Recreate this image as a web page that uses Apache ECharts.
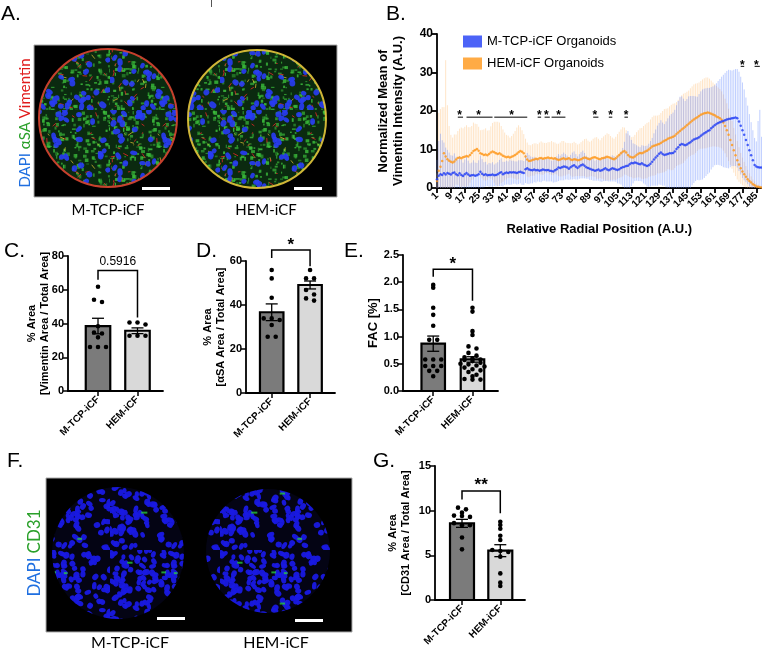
<!DOCTYPE html>
<html>
<head>
<meta charset="utf-8">
<script src="https://cdn.jsdelivr.net/npm/echarts@6/dist/echarts.min.js"></script>
<style>
html, body { margin: 0; padding: 0; background: #fff; }
#main { width: 762px; height: 652px; }
</style>
</head>
<body>
<div id="main"></div>
<script>
var FONT = '"Liberation Sans", Arial, sans-serif';
var LABEL_FONT = 'Lato, "Open Sans", sans-serif';

// ---------- panel B : radial profile (positions 1..188) ----------
var positions = [];
for (var p = 1; p <= 188; p++) positions.push(String(p));

var mtcpMean = [
  2.3, 3.2, 3.6, 3.4, 3.8, 3.5, 3.9, 3.7,
  3.5, 3.9, 4.0, 3.6, 3.3, 3.8, 3.4, 3.1,
  3.6, 3.9, 3.5, 3.2, 3.3, 3.4, 3.2, 3.3,
  3.6, 4.2, 3.7, 3.4, 3.6, 3.3, 3.4, 3.4,
  3.5, 3.3, 3.4, 3.6, 3.9, 4.1, 3.6, 3.8,
  4.0, 3.9, 4.1, 4.0, 4.1, 4.0, 3.9, 4.1,
  4.2, 4.0, 3.9, 4.9, 5.1, 4.8, 4.7, 4.6,
  4.8, 4.6, 4.7, 4.5, 4.6, 4.8, 4.7, 4.6,
  4.7, 4.5, 4.4, 4.3, 4.6, 4.9, 5.3, 5.2,
  5.4, 5.6, 5.5, 5.3, 5.0, 5.4, 5.7, 5.9,
  5.5, 5.2, 5.6, 5.9, 6.1, 5.8, 5.4, 5.2,
  5.0, 4.8, 4.7, 4.5, 4.6, 4.8, 4.5, 4.6,
  4.9, 5.1, 4.8, 4.6, 4.9, 5.1, 5.0, 4.8,
  4.7, 4.9, 5.2, 5.4, 5.5, 5.7, 5.8, 6.2,
  6.5, 6.4, 6.6, 6.5, 6.3, 6.2, 6.4, 6.1,
  5.9, 5.7, 5.9, 6.3, 6.8, 7.4, 7.9, 8.4,
  8.9, 9.2, 8.8, 8.6, 8.7, 8.8, 9.0, 9.0,
  9.1, 9.5, 10.1, 10.6, 11.2, 11.4, 11.3, 11.1,
  11.3, 11.6, 11.9, 12.3, 12.6, 12.8, 12.9, 13.2,
  13.6, 13.9, 14.2, 14.5, 14.8, 15.0, 15.5, 15.9,
  16.3, 16.6, 16.9, 17.1, 17.3, 17.4, 17.6, 17.8,
  17.9, 18.0, 18.1, 18.2, 18.3, 18.1, 17.3, 16.2,
  15.0, 13.8, 12.5, 11.2, 9.8, 8.5, 7.2, 6.0,
  5.6, 5.4, 5.3, 5.3
];
var mtcpSd = [
  5, 9, 10.5, 9, 8, 7, 6, 5.5,
  5, 4.5, 5, 4.5, 4, 4.5, 4, 3.5,
  3.8, 4.2, 3.6, 3.2, 3.3, 3.8, 3.4, 3.2,
  3.6, 4.2, 3.8, 3.3, 3.2, 2.8, 3.1, 3.0,
  3.2, 2.8, 3.0, 3.1, 3.4, 3.6, 3.2, 3.0,
  3.1, 3.0, 3.3, 3.1, 3.0, 2.9, 3.0, 3.1,
  3.0, 3.2, 3.1, 3.6, 4.0, 3.8, 3.5, 3.4,
  3.3, 3.2, 3.0, 2.9, 3.1, 3.0, 2.8, 2.9,
  3.0, 2.8, 2.7, 2.9, 3.1, 3.3, 3.5, 3.2,
  3.4, 3.6, 3.3, 3.1, 2.9, 3.2, 3.5, 3.6,
  3.3, 3.0, 3.2, 3.4, 3.6, 3.3, 3.0, 2.8,
  2.9, 2.7, 2.8, 2.6, 2.7, 2.9, 2.8, 3.0,
  3.1, 3.3, 3.0, 2.9, 3.2, 3.4, 3.3, 3.2,
  3.5, 3.8, 4.3, 5.0, 6.5, 8.5, 9.0, 7.5,
  6.0, 5.2, 4.8, 4.6, 4.5, 4.4, 4.7, 4.9,
  5.0, 5.3, 5.6, 5.9, 6.2, 6.8, 7.3, 7.8,
  8.0, 8.4, 8.2, 8.0, 8.6, 9.3, 9.8, 10.2,
  10.5, 10.8, 11.4, 12.0, 12.5, 12.4, 11.9, 11.5,
  11.8, 12.2, 12.0, 11.6, 11.3, 11.0, 10.8, 11.2,
  11.5, 11.7, 11.6, 11.4, 11.2, 11.0, 10.7, 10.5,
  10.4, 10.6, 10.9, 11.2, 11.6, 12.0, 12.3, 12.6,
  12.8, 12.6, 12.4, 12.5, 12.6, 12.8, 12.9, 12.7,
  12.4, 11.8, 11.0, 10.2, 9.4, 8.6, 7.8, 7.0,
  6.5, 12.0, 15.0, 8.0
];
var hemMean = [
  1.8, 4.5, 5.5, 7.0, 9.0, 8.2, 7.5, 7.1,
  6.8, 6.6, 6.9, 7.4, 7.8, 7.9, 7.7, 8.0,
  8.1, 8.3, 8.2, 8.6, 9.1, 9.6, 9.9, 10.1,
  9.7, 9.0, 8.8, 8.6, 8.7, 8.5, 8.8, 9.2,
  9.5, 9.3, 9.0, 8.8, 9.0, 8.7, 8.4, 8.2,
  8.0, 8.1, 7.9, 8.1, 8.3, 8.6, 8.9, 9.3,
  9.6, 9.4, 9.0, 8.2, 7.4, 7.0, 7.1, 7.3,
  7.4, 7.6, 7.5, 7.7, 7.8, 7.6, 7.7, 7.8,
  7.9, 7.7, 7.8, 7.6, 7.7, 7.5, 7.3, 7.4,
  7.6, 7.7, 7.5, 7.6, 7.7, 7.4, 7.3, 7.5,
  7.4, 7.2, 7.3, 7.5, 7.7, 7.9, 7.8, 7.6,
  7.5, 7.7, 7.9, 8.0, 7.8, 7.6, 7.5, 7.7,
  7.8, 7.9, 8.1, 8.0, 7.8, 7.6, 7.5, 7.7,
  8.2, 8.6, 9.0, 9.4, 9.6, 9.2, 8.6, 8.2,
  8.0, 7.9, 8.2, 8.6, 8.9, 9.1, 9.0, 9.2,
  9.5, 9.7, 10.0, 10.4, 10.8, 11.0, 11.1, 11.3,
  11.4, 11.7, 12.0, 12.3, 12.5, 12.8, 13.0, 13.1,
  13.3, 13.6, 14.0, 14.4, 14.8, 15.2, 15.5, 15.9,
  16.3, 16.7, 17.1, 17.5, 17.8, 18.1, 18.4, 18.7,
  19.0, 19.2, 19.4, 19.5, 19.6, 19.5, 19.3, 19.1,
  18.9, 18.6, 18.4, 18.1, 17.7, 17.0, 16.1, 15.0,
  13.8, 12.5, 11.2, 9.8, 8.5, 7.2, 6.1, 5.1,
  4.3, 3.6, 2.9, 2.3, 1.8, 1.4, 1.0, 0.7,
  0.4, 0.3, 0.2, 0.1
];
var hemSd = [
  2, 15, 15, 14, 12, 25, 14, 9,
  7, 6.5, 7, 6.5, 7, 7.5, 8, 7.5,
  7.8, 8, 7.6, 7.2, 7, 7.4, 6.8, 6.5,
  6.2, 6, 6.3, 6.6, 6.8, 6.4, 6.2, 6.8,
  7.4, 7.9, 8.2, 8.4, 8.0, 7.4, 6.8, 6.2,
  5.8, 5.5, 5.2, 5.4, 5.8, 6.2, 6.8, 7.0,
  6.2, 5.6, 5.0, 4.6, 4.4, 4.2, 4.0, 4.1,
  4.2, 4.0, 3.9, 4.1, 4.3, 4.2, 4.0, 3.9,
  4.0, 4.2, 4.4, 4.3, 4.1, 4.0, 4.2, 4.4,
  4.6, 4.5, 4.3, 4.1, 4.0, 4.2, 4.4, 4.5,
  4.3, 4.1, 4.2, 4.4, 4.6, 4.8, 5.0, 4.7,
  4.5, 4.6, 4.9, 5.1, 5.4, 5.2, 4.9, 5.3,
  5.6, 5.9, 6.1, 6.0, 5.7, 5.5, 5.3, 5.6,
  5.8, 6.0, 6.2, 6.4, 6.1, 5.8, 5.5, 5.3,
  5.2, 5.4, 5.6, 5.9, 6.1, 6.4, 6.6, 6.9,
  7.0, 7.2, 7.1, 7.4, 7.6, 7.8, 7.7, 7.5,
  7.6, 7.8, 8.0, 8.2, 8.1, 7.9, 8.2, 8.5,
  8.6, 8.4, 8.3, 8.5, 8.7, 8.9, 9.0, 8.8,
  8.7, 8.6, 8.8, 8.9, 9.1, 9.0, 8.8, 8.7,
  8.8, 9.0, 9.1, 9.2, 9.1, 8.9, 8.6, 8.3,
  8.1, 7.9, 7.7, 7.6, 7.4, 7.3, 7.1, 7.0,
  6.8, 6.5, 6.2, 5.8, 5.4, 5.0, 4.5, 4.0,
  3.6, 3.2, 2.8, 2.4, 2.0, 1.6, 1.2, 1.0,
  0.8, 0.6, 0.5, 0.4
];
// significance marks in B: underline from..to, star position, height
var sigFrom  = [13, 17.6, 34.2, 58.5, 62.5, 67, 91, 99.5, 108.5, 175.5, 184];
var sigTo    = [16, 32.9, 53.1, 61, 66, 75, 93.5, 102, 111, 178, 186.5];
var sigStar  = [14.4, 24.9, 43.8, 59.6, 64, 71, 92, 100.7, 109.7, 176.5, 185];
var sigLevel = [18.4, 18.4, 18.4, 18.4, 18.4, 18.4, 18.4, 18.4, 18.4, 31.6, 31.6];

// ---------- panels C, D, E, G ----------
var groups = ['M-TCP-iCF', 'HEM-iCF'];

var cMtcp = [61.8, 52.7, 54.1, 38.4, 34.7, 34.1, 31.8, 26.1, 26.1, 26.1];
var cHem  = [40.6, 39.4, 40.6, 32.7, 32.7, 32.7];
var cMean = [38.5, 35.7];
var cSem  = [4.6, 1.7];
var cBracket = [71.4, 66, 43.5];

var dMtcp = [55.9, 52.1, 43.3, 33.9, 33.9, 33.2, 30.9, 25.6, 25.6];
var dHem  = [55.9, 52.1, 52.1, 46.8, 44.8, 43.0, 42.0];
var dMean = [36.7, 49.1];
var dSem  = [3.8, 1.8];
var dBracket = [65, 61.4, 57.6];

var eMtcp = [1.95, 1.90, 1.53, 1.40, 1.20, 0.94, 0.94, 0.58, 0.58, 0.58, 0.46, 0.46, 0.46, 0.37, 0.37, 0.27];
var eHem  = [1.53, 1.46, 1.10, 1.03, 0.82, 0.78, 0.70, 0.65, 0.62, 0.60, 0.58, 0.57, 0.55, 0.52,
             0.50, 0.49, 0.47, 0.45, 0.43, 0.40, 0.38, 0.35, 0.30, 0.27, 0.22, 0.21, 0.21];
var eMean = [0.87, 0.58];
var eSem  = [0.14, 0.05];
var eBracket = [2.24, 2.10, 1.66];

var gMtcp = [10.34, 10.15, 9.78, 9.45, 9.40, 9.30, 8.60, 8.36, 8.36, 7.00, 5.67];
var gHem  = [8.76, 8.39, 7.98, 7.2, 6.71, 5.59, 5.48, 5.37, 4.85, 2.98, 1.94, 1.57];
var gMean = [8.58, 5.52];
var gSem  = [0.45, 0.67];
var gBracket = [12.2, 11.26, 9.7];

var BLUE = '#1f3cf5', ORANGE = '#ff9616';
var BAR_FILL = ['#7b7b7b', '#d9d9d9'];

// ---------- helpers ----------
function swarm(vals, tol, maxRow) {
  var order = vals.map(function (v, i) { return i; })
    .sort(function (a, b) { return vals[b] - vals[a]; });
  var off = new Array(vals.length), row = [];
  function flush() {
    row.forEach(function (k, j) { off[k] = j - (row.length - 1) / 2; });
    row = [];
  }
  order.forEach(function (k) {
    if (row.length && (vals[row[0]] - vals[k] > tol || row.length >= maxRow)) flush();
    row.push(k);
  });
  flush();
  return off;
}

function axisStyle() {
  return { show: true, onZero: false, lineStyle: { color: '#000', width: 1.8 } };
}

var grids = [], xAxes = [], yAxes = [], series = [];

function barPanel(o) {
  var gi = grids.length;
  grids.push({ left: o.left, top: o.top, width: o.width, height: o.height });
  xAxes.push({
    type: 'value', gridIndex: gi, min: o.xmin, max: o.xmax,
    axisLine: axisStyle(), splitLine: { show: false },
    axisTick: { show: true, customValues: [0, 1], length: 5, lineStyle: { color: '#000', width: 1.5 } },
    axisLabel: {
      customValues: [0, 1], rotate: 45, margin: 7,
      fontFamily: FONT, fontWeight: 'bold', fontSize: 10, color: '#000',
      formatter: function (v) { return groups[Math.round(v)]; }
    }
  });
  yAxes.push({
    type: 'value', gridIndex: gi, min: 0, max: o.ymax, interval: o.interval,
    axisLine: axisStyle(), splitLine: { show: false },
    axisTick: { show: true, length: 5, lineStyle: { color: '#000', width: 1.5 } },
    axisLabel: {
      fontFamily: FONT, fontWeight: 'bold', fontSize: 11, color: '#000', margin: 4,
      formatter: o.fmt || null
    },
    name: o.name, nameLocation: 'middle', nameGap: o.nameGap, nameMoveOverlap: false,
    nameTextStyle: { fontFamily: FONT, fontWeight: 'bold', fontSize: o.nameSize || 11, color: '#000', lineHeight: 13 }
  });

  var bars = [[0, o.mean[0], o.sem[0]], [1, o.mean[1], o.sem[1]]];
  var bw = o.barWidth;
  series.push({
    type: 'custom', xAxisIndex: gi, yAxisIndex: gi, data: bars, z: 2, silent: true,
    renderItem: function (params, api) {
      var x = api.value(0), m = api.value(1);
      var base = api.coord([x, 0]), top = api.coord([x, m]);
      return {
        type: 'rect',
        shape: { x: base[0] - bw / 2, y: top[1], width: bw, height: base[1] - top[1] },
        style: { fill: BAR_FILL[x], stroke: '#000', lineWidth: 2.2 }
      };
    }
  });

  var dots = [];
  [o.a, o.b].forEach(function (vals, gIdx) {
    var off = swarm(vals, o.tol, 4);
    vals.forEach(function (v, i) { dots.push([gIdx, v, off[i]]); });
  });
  series.push({
    type: 'custom', xAxisIndex: gi, yAxisIndex: gi, data: dots, z: 3, silent: true,
    renderItem: function (params, api) {
      var c = api.coord([api.value(0), api.value(1)]);
      return { type: 'circle', shape: { cx: c[0] + api.value(2) * 8, cy: c[1], r: 2.3 }, style: { fill: '#000' } };
    }
  });

  series.push({
    type: 'custom', xAxisIndex: gi, yAxisIndex: gi, data: bars, z: 4, silent: true,
    renderItem: function (params, api) {
      var x = api.value(0), m = api.value(1), s = api.value(2);
      var hi = api.coord([x, m + s]), lo = api.coord([x, m - s]);
      var st = { stroke: '#000', lineWidth: 1.3 };
      return {
        type: 'group', children: [
          { type: 'line', shape: { x1: hi[0], y1: hi[1], x2: lo[0], y2: lo[1] }, style: st },
          { type: 'line', shape: { x1: hi[0] - 6, y1: hi[1], x2: hi[0] + 6, y2: hi[1] }, style: st },
          { type: 'line', shape: { x1: lo[0] - 6, y1: lo[1], x2: lo[0] + 6, y2: lo[1] }, style: st }
        ]
      };
    }
  });

  series.push({
    type: 'custom', xAxisIndex: gi, yAxisIndex: gi, data: [o.bracket], z: 4, silent: true,
    encode: { x: [], y: 0 },
    renderItem: function (params, api) {
      var lTop = api.coord([0, api.value(0)]), rTop = api.coord([1, api.value(0)]);
      var lEnd = api.coord([0, api.value(1)]), rEnd = api.coord([1, api.value(2)]);
      return {
        type: 'group', children: [
          { type: 'polyline', shape: { points: [lEnd, lTop, rTop, rEnd] }, style: { stroke: '#000', lineWidth: 1.5, fill: null } },
          { type: 'text', style: {
            text: o.mark, x: (lTop[0] + rTop[0]) / 2, y: lTop[1] - o.markGap,
            align: 'center', verticalAlign: 'bottom',
            font: o.markFont, fill: '#000'
          } }
        ]
      };
    }
  });
}

// ---------- panel B grid ----------
grids.push({ left: 437, top: 34, width: 326, height: 154 });
xAxes.push({
  type: 'category', gridIndex: 0, data: positions, boundaryGap: false,
  axisLine: axisStyle(),
  axisTick: { show: true, interval: 7, length: 5, lineStyle: { color: '#000', width: 1.8 } },
  axisLabel: { interval: 7, rotate: 45, margin: 6, fontFamily: FONT, fontWeight: 'bold', fontSize: 10, color: '#000' },
  name: 'Relative Radial Position (A.U.)', nameLocation: 'middle', nameGap: 35,
  nameTextStyle: { fontFamily: FONT, fontWeight: 'bold', fontSize: 13, color: '#000' }
});
yAxes.push({
  type: 'value', gridIndex: 0, min: 0, max: 40, interval: 10,
  axisLine: axisStyle(), splitLine: { show: false },
  axisTick: { show: true, length: 5, lineStyle: { color: '#000', width: 1.8 } },
  axisLabel: { fontFamily: FONT, fontWeight: 'bold', fontSize: 12, color: '#000', margin: 4 },
  name: 'Normalized Mean of\nVimentin Intensity (A.U.)', nameLocation: 'middle', nameGap: 31,
  nameTextStyle: { fontFamily: FONT, fontWeight: 'bold', fontSize: 13, color: '#000', lineHeight: 15 }
});

function errSeries(name, mean, sd, color) {
  return {
    type: 'custom', name: name, xAxisIndex: 0, yAxisIndex: 0, silent: true, z: 1,
    data: mean.map(function (m, i) { return [i, m, sd[i]]; }),
    renderItem: function (params, api) {
      var i = api.value(0), m = api.value(1), s = api.value(2);
      var a = api.coord([i, Math.max(0, m - s)]), b = api.coord([i, m + s]);
      return { type: 'line', shape: { x1: a[0], y1: a[1], x2: b[0], y2: b[1] }, style: { stroke: color, lineWidth: 0.9 } };
    }
  };
}
series.push(errSeries('hemErr', hemMean, hemSd, 'rgba(255,185,110,0.42)'));
series.push(errSeries('mtcpErr', mtcpMean, mtcpSd, 'rgba(100,135,255,0.45)'));
series.push({
  type: 'scatter', name: 'HEM-iCF Organoids', xAxisIndex: 0, yAxisIndex: 0, z: 3,
  data: hemMean, symbol: 'circle', symbolSize: 2.5, itemStyle: { color: ORANGE }, silent: true
});
series.push({
  type: 'scatter', name: 'M-TCP-iCF Organoids', xAxisIndex: 0, yAxisIndex: 0, z: 4,
  data: mtcpMean, symbol: 'circle', symbolSize: 2.5, itemStyle: { color: BLUE }, silent: true
});
series.push({
  type: 'custom', xAxisIndex: 0, yAxisIndex: 0, silent: true, z: 5,
  encode: { x: 0, y: 3 },
  data: sigFrom.map(function (f, i) { return [f - 1, sigTo[i] - 1, sigStar[i] - 1, sigLevel[i]]; }),
  renderItem: function (params, api) {
    var lv = api.value(3);
    var a = api.coord([api.value(0), lv]), b = api.coord([api.value(1), lv]), s = api.coord([api.value(2), lv]);
    return {
      type: 'group', children: [
        { type: 'line', shape: { x1: a[0], y1: a[1], x2: b[0], y2: b[1] }, style: { stroke: '#000', lineWidth: 1 } },
        { type: 'text', style: { text: '*', x: s[0], y: s[1] + 5, align: 'center', verticalAlign: 'bottom', font: 'bold 12px ' + FONT, fill: '#000' } }
      ]
    };
  }
});

// ---------- bar panels ----------
barPanel({ left: 68, top: 256, width: 95, height: 135, xmin: -0.76, xmax: 1.646, barWidth: 24.5,
  ymax: 80, interval: 20, a: cMtcp, b: cHem, mean: cMean, sem: cSem, tol: 2.5,
  name: '% Area\n[Vimentin Area / Total Area]', nameGap: 17,
  bracket: cBracket, mark: '0.5916', markGap: 3, markFont: '12px ' + FONT });
barPanel({ left: 246, top: 261, width: 89, height: 132, xmin: -0.67, xmax: 1.65, barWidth: 23.5,
  ymax: 60, interval: 20, a: dMtcp, b: dHem, mean: dMean, sem: dSem, tol: 2,
  name: '% Area\n[\u03b1SA Area / Total Area]', nameGap: 19,
  bracket: dBracket, mark: '*', markGap: -4, markFont: 'bold 17px ' + FONT });
barPanel({ left: 403, top: 255, width: 95, height: 136, xmin: -0.77, xmax: 1.65, barWidth: 23.5,
  ymax: 2.5, interval: 0.5, a: eMtcp, b: eHem, mean: eMean, sem: eSem, tol: 0.05,
  fmt: function (v) { return v.toFixed(1); },
  name: 'FAC [%]', nameGap: 23, nameSize: 13,
  bracket: eBracket, mark: '*', markGap: -4, markFont: 'bold 17px ' + FONT });
barPanel({ left: 435, top: 466, width: 90, height: 134, xmin: -0.705, xmax: 1.645, barWidth: 24,
  ymax: 15, interval: 5, a: gMtcp, b: gHem, mean: gMean, sem: gSem, tol: 0.3,
  name: '% Area\n[CD31 Area / Total Area]', nameGap: 23,
  bracket: gBracket, mark: '**', markGap: -3, markFont: 'bold 17px ' + FONT });

// ---------- micrograph stand-ins ----------
function tissue(kind) {
  var S = 110;
  var c = document.createElement('canvas');
  c.width = S; c.height = S;
  var g = c.getContext('2d');
  var seed = kind === 'A' ? 11 : 29;
  function nxt() { seed = (seed * 16807) % 2147483647; return seed / 2147483647; }
  g.fillStyle = kind === 'A' ? '#0b2a10' : '#040414';
  g.fillRect(0, 0, S, S);
  var k;
  if (kind === 'A') {
    for (k = 0; k < 420; k++) {
      g.fillStyle = 'rgba(60,190,60,' + (0.45 + nxt() * 0.45) + ')';
      g.fillRect(nxt() * S, nxt() * S, 1 + nxt() * 3, 1 + nxt() * 3);
    }
    for (k = 0; k < 80; k++) {
      g.strokeStyle = nxt() > 0.3 ? 'rgba(230,40,40,0.8)' : 'rgba(235,200,50,0.7)';
      g.lineWidth = 1;
      g.beginPath();
      var x = nxt() * S, y = nxt() * S;
      g.moveTo(x, y); g.lineTo(x + (nxt() - 0.5) * 10, y + (nxt() - 0.5) * 10);
      g.stroke();
    }
  }
  var nuclei = kind === 'A' ? 85 : 230;
  for (k = 0; k < nuclei; k++) {
    g.fillStyle = kind === 'A' ? 'rgba(40,60,245,0.9)' : 'rgba(25,25,225,0.95)';
    g.beginPath();
    g.ellipse(nxt() * S, nxt() * S, 2.6 + nxt() * 1.4, 2.1 + nxt(), nxt() * 3, 0, Math.PI * 2);
    g.fill();
  }
  if (kind === 'F') {
    for (k = 0; k < 6; k++) {
      g.fillStyle = 'rgba(40,210,60,0.75)';
      g.fillRect(nxt() * (S - 8), nxt() * (S - 8), 3 + nxt() * 5, 2);
    }
  }
  return c;
}
var texA = tissue('A'), texF = tissue('F');

function text(x, y, str, size, opts) {
  opts = opts || {};
  return {
    type: 'text', x: x, y: y, rotation: opts.rotation || 0, silent: true,
    style: {
      text: str, fill: '#000', font: (opts.weight || 'normal') + ' ' + size + 'px ' + (opts.family || FONT),
      align: opts.align || 'left', verticalAlign: opts.valign || 'top', rich: opts.rich
    }
  };
}

var graphics = [
  { type: 'line', shape: { x1: 211.5, y1: 0, x2: 211.5, y2: 7 }, style: { stroke: '#555', lineWidth: 1 } },
  // panel A
  { type: 'rect', shape: { x: 34, y: 45, width: 303, height: 152 }, style: { fill: '#000', stroke: '#aaa', lineWidth: 1 } },
  { type: 'circle', shape: { cx: 108, cy: 118, r: 69 }, style: { fill: { image: texA, repeat: 'repeat' }, stroke: 'rgba(220,70,50,0.9)', lineWidth: 2 } },
  { type: 'circle', shape: { cx: 257, cy: 119, r: 69 }, style: { fill: { image: texA, repeat: 'repeat' }, stroke: 'rgba(230,200,60,0.9)', lineWidth: 2 } },
  { type: 'rect', shape: { x: 142, y: 187, width: 28, height: 3 }, style: { fill: '#fff' } },
  { type: 'rect', shape: { x: 294, y: 187, width: 28, height: 3 }, style: { fill: '#fff' } },
  text(108, 210, 'M-TCP-iCF', 15, { align: 'center', valign: 'middle', family: LABEL_FONT }),
  text(266, 210, 'HEM-iCF', 15, { align: 'center', valign: 'middle', family: LABEL_FONT }),
  text(25, 123, '{b|DAPI} {g|\u03b1SA} {r|Vimentin}', 15, { align: 'center', valign: 'middle', rotation: Math.PI / 2,
    family: LABEL_FONT,
    rich: { b: { fill: '#1f6fe0', font: '15px ' + LABEL_FONT }, g: { fill: '#2aa02a', font: '15px ' + LABEL_FONT }, r: { fill: '#e01b1b', font: '15px ' + LABEL_FONT } } }),
  // panel F
  { type: 'rect', shape: { x: 46, y: 478, width: 306, height: 154 }, style: { fill: '#000', stroke: '#aaa', lineWidth: 1 } },
  { type: 'circle', shape: { cx: 118, cy: 553, r: 66 }, style: { fill: { image: texF, repeat: 'repeat' } } },
  { type: 'circle', shape: { cx: 268, cy: 551, r: 62 }, style: { fill: { image: texF, repeat: 'repeat' } } },
  { type: 'rect', shape: { x: 157, y: 617, width: 28, height: 3 }, style: { fill: '#fff' } },
  { type: 'rect', shape: { x: 295, y: 619, width: 28, height: 3 }, style: { fill: '#fff' } },
  text(130, 643, 'M-TCP-iCF', 16, { align: 'center', valign: 'middle', family: LABEL_FONT }),
  text(276, 643, 'HEM-iCF', 16, { align: 'center', valign: 'middle', family: LABEL_FONT }),
  text(35, 553, '{b|DAPI} {g|CD31}', 16, { align: 'center', valign: 'middle', rotation: Math.PI / 2,
    family: LABEL_FONT,
    rich: { b: { fill: '#1f6fe0', font: '17px ' + LABEL_FONT }, g: { fill: '#2aa02a', font: '17px ' + LABEL_FONT } } }),
  // panel letters
  text(1, 4, 'A.', 21),
  text(386, 4, 'B.', 21),
  text(4, 241, 'C.', 21),
  text(196, 241, 'D.', 21),
  text(344, 241, 'E.', 21),
  text(7, 451, 'F.', 21),
  text(373, 451, 'G.', 21)
];

var chart = echarts.init(document.getElementById('main'));
chart.setOption({
  animation: false,
  backgroundColor: '#fff',
  legend: {
    data: ['M-TCP-iCF Organoids', 'HEM-iCF Organoids'],
    orient: 'vertical', left: 458, top: 30, itemWidth: 19, itemHeight: 12, itemGap: 9,
    icon: 'rect', selectedMode: false,
    textStyle: { fontFamily: FONT, fontSize: 13, color: '#000' }
  },
  grid: grids,
  xAxis: xAxes,
  yAxis: yAxes,
  series: series,
  graphic: graphics
});
</script>
</body>
</html>
